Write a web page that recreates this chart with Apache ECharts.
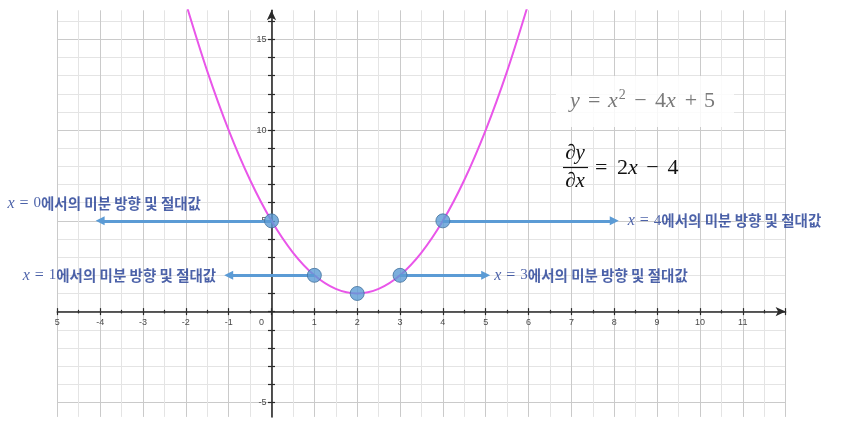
<!DOCTYPE html>
<html><head><meta charset="utf-8">
<script src="https://cdn.jsdelivr.net/npm/echarts@6/dist/echarts.min.js"></script>
<style>html,body{margin:0;padding:0;background:#fff}#c{width:841px;height:427px}</style>
</head><body><div id="c"></div>
<script>
// ---- data ----
const curveX = [-2, -1.5, -1, -0.5, 0, 0.5, 1, 1.5, 2, 2.5, 3, 3.5, 4, 4.5, 5, 5.5, 6];
const curveY = [17, 13.25, 10, 7.25, 5, 3.25, 2, 1.25, 1, 1.25, 2, 3.25, 5, 7.25, 10, 13.25, 17];
const pointX = [0, 1, 2, 3, 4];
const pointY = [5, 2, 1, 2, 5];
const arrowX = [0, 1, 3, 4];
const arrowY = [5, 2, 2, 5];
const arrowSlope = [-4, -2, 2, 4];
const arrowLabelPos = ['top', 'left', 'right', 'right'];
const arrowLabelDist = [9, 12, 8, 13];
const labelSuffix = '에서의 미분 방향 및 절대값';
const xTickLabels = [-5, -4, -3, -2, -1, 0, 1, 2, 3, 4, 5, 6, 7, 8, 9, 10, 11];
const yTickValues = [-5, -4, -3, -2, -1, 0, 1, 2, 3, 4, 5, 6, 7, 8, 9, 10, 11, 12, 13, 14, 15, 16];
const yTickLabels = [-5, 5, 10, 15];

const X_MIN = -5, X_MAX = 12, Y_MIN = -5.8, Y_MAX = 16.6;
const GRID = { left: 57.3, top: 10.3, width: 728.3, height: 406.6 };
const AXIS_C = '#2a2a2a', MAJ = '#cacaca', MIN = '#e4e4e4';
const LBL = { fontSize: 9, color: '#4a4a4a', fontFamily: 'Liberation Sans' };
const TXT_C = '#1f3b94';

// axis placement: put the axes through the origin (layout offsets only)
const zeroY = GRID.top + GRID.height * (Y_MAX / (Y_MAX - Y_MIN));
const zeroX = GRID.left + GRID.width * (-X_MIN / (X_MAX - X_MIN));
const offBottom = -(GRID.top + GRID.height - zeroY);
const offTop = -(zeroY - GRID.top);
const offLeft = -(zeroX - GRID.left);
const offRight = -(GRID.left + GRID.width - zeroX);

const chart = echarts.init(document.getElementById('c'), null, { renderer: 'canvas' });

const curveData = curveX.map((x, i) => [x, curveY[i]]);
const pointData = pointX.map((x, i) => [x, pointY[i]]);
const arrowData = arrowX.map((x, i) => ({ coords: [[x, arrowY[i]], [x + arrowSlope[i], arrowY[i]]] }));
const labelData = arrowX.map((x, i) => ({
  value: [x + arrowSlope[i], arrowY[i]],
  label: { position: arrowLabelPos[i], distance: arrowLabelDist[i], offset: i === 0 ? [4, 0] : [0, 0],
           formatter: '{v|x}{e|=}{d|' + x + '}{k|' + labelSuffix + '}' }
}));

const richLbl = {
  v: { fontFamily: 'Liberation Serif', fontStyle: 'italic', fontSize: 16, color: TXT_C },
  e: { fontFamily: 'Liberation Serif', fontSize: 16, color: TXT_C, padding: [0, 5, 0, 5] },
  d: { fontFamily: 'Liberation Serif', fontSize: 15, color: TXT_C },
  k: { fontFamily: 'Noto Sans CJK KR', fontWeight: 'bold', fontSize: 14.5, color: TXT_C }
};

const xBase = { type: 'value', min: X_MIN, max: X_MAX, interval: 1 };
const yBase = { type: 'value', min: Y_MIN, max: Y_MAX };

const F1 = '#7a7a7a';
const f1 = (extra) => Object.assign({ fontSize: 22, fontFamily: 'Liberation Serif', fill: F1, lineHeight: 26 }, extra);
const F2 = '#111';
const f2 = (extra) => Object.assign({ fontSize: 22, fontFamily: 'Liberation Serif', fill: F2, lineHeight: 26 }, extra);

chart.setOption({
  animation: false,
  grid: { left: GRID.left, top: GRID.top, width: GRID.width, height: GRID.height, containLabel: false },
  xAxis: [
    Object.assign({}, xBase, {
      position: 'bottom', offset: offBottom,
      axisLine: { onZero: false, symbol: ['none', 'arrow'], symbolSize: [7, 10],
                  lineStyle: { color: AXIS_C, width: 1.6 } },
      axisTick: { show: true, length: 3.5, lineStyle: { color: AXIS_C, width: 1.2 } },
      minorTick: { show: true, splitNumber: 2, length: 1.8, lineStyle: { color: AXIS_C, width: 1.2 } },
      axisLabel: Object.assign({}, LBL, {
        margin: 6, showMinLabel: true, showMaxLabel: true, hideOverlap: false,
        formatter: v => v === 12 ? '' : (v === -5 ? '5' : (v === 0 ? '{z|0}' : String(v))),
        rich: { z: Object.assign({}, LBL, { padding: [0, 20, 0, 0] }) }
      }),
      splitLine: { show: true, lineStyle: { color: MAJ, width: 1 } },
      minorSplitLine: { show: true, lineStyle: { color: MIN, width: 1 } }
    }),
    Object.assign({}, xBase, {
      position: 'top', offset: offTop,
      axisLine: { show: false, onZero: false },
      axisTick: { show: true, length: 3.5, lineStyle: { color: AXIS_C, width: 1.2 } },
      minorTick: { show: true, splitNumber: 2, length: 1.8, lineStyle: { color: AXIS_C, width: 1.2 } },
      axisLabel: { show: false },
      splitLine: { show: false }
    })
  ],
  yAxis: [
    Object.assign({}, yBase, {
      position: 'left', offset: offLeft,
      axisLine: { onZero: false, symbol: ['none', 'arrow'], symbolSize: [7, 10],
                  lineStyle: { color: AXIS_C, width: 1.6 } },
      axisTick: { show: true, length: 3.5, customValues: yTickValues, lineStyle: { color: AXIS_C, width: 1.2 } },
      axisLabel: Object.assign({}, LBL, { margin: 5, customValues: yTickLabels }),
      splitLine: { show: true, lineStyle: { color: [MAJ, MIN, MIN, MIN, MIN], width: 1 } }
    }),
    Object.assign({}, yBase, {
      position: 'right', offset: offRight,
      axisLine: { show: false, onZero: false },
      axisTick: { show: true, length: 3.5, customValues: yTickValues, lineStyle: { color: AXIS_C, width: 1.2 } },
      axisLabel: { show: false },
      splitLine: { show: false }
    })
  ],
  series: [
    {
      type: 'line', name: 'curve', data: curveData, smooth: 0.35, showSymbol: false, clip: true,
      lineStyle: { color: '#e956e9', width: 2 }, z: 3
    },
    {
      type: 'lines', coordinateSystem: 'cartesian2d', data: arrowData,
      symbol: ['none', 'triangle'], symbolSize: [10, 9],
      lineStyle: { color: '#5b9bd5', width: 3, opacity: 1 }, z: 4
    },
    {
      type: 'scatter', data: pointData, symbolSize: 14,
      itemStyle: { color: '#5b9bd5', borderColor: '#41719c', borderWidth: 1 }, z: 5
    },
    {
      type: 'scatter', data: labelData, symbolSize: 1, silent: true,
      itemStyle: { color: 'rgba(0,0,0,0)' },
      label: { show: true, rich: richLbl }, z: 6
    }
  ],
  graphic: [
    { type: 'rect', shape: { x: 556, y: 76, width: 178, height: 51 },
      style: { fill: 'rgba(255,255,255,0.85)' }, z: 10 },
    { type: 'text', x: 570, y: 101, z: 11,
      style: { text: '{i|y}{o|=}{i|x}{s|2}{m|−}{n|4}{i|x}{p|+}{n|5}', align: 'left', verticalAlign: 'middle',
        fill: F1, fontSize: 22, fontFamily: 'Liberation Serif',
        rich: { i: f1({ fontStyle: 'italic' }),
                n: f1({}),
                o: f1({ padding: [0, 7.6, 0, 8.2] }),
                m: f1({ padding: [0, 8.4, 0, 8.4] }),
                p: f1({ padding: [0, 7, 0, 9] }),
                s: { fontSize: 14, fontFamily: 'Liberation Serif', fill: F1, verticalAlign: 'top', lineHeight: 14, padding: [0, 0, 0, 1] } } } },
    { type: 'text', x: 575, y: 153, z: 11,
      style: { text: '∂{i|y}', align: 'center', verticalAlign: 'middle', fill: F2, fontSize: 21, fontFamily: 'Liberation Serif',
        rich: { i: f2({ fontSize: 21, fontStyle: 'italic' }) } } },
    { type: 'line', z: 11, shape: { x1: 563, y1: 167.5, x2: 588, y2: 167.5 }, style: { stroke: F2, lineWidth: 1.2 } },
    { type: 'text', x: 575, y: 181, z: 11,
      style: { text: '∂{i|x}', align: 'center', verticalAlign: 'middle', fill: F2, fontSize: 21, fontFamily: 'Liberation Serif',
        rich: { i: f2({ fontSize: 21, fontStyle: 'italic' }) } } },
    { type: 'text', x: 595, y: 168, z: 11,
      style: { text: '{q|=}{n|2}{i|x}{m|−}{n|4}', align: 'left', verticalAlign: 'middle', fill: F2, fontSize: 22, fontFamily: 'Liberation Serif',
        rich: { i: f2({ fontStyle: 'italic' }),
                q: f2({ padding: [0, 9.6, 0, 0] }),
                n: f2({}),
                m: f2({ padding: [0, 8.6, 0, 8.6] }) } } }
  ]
});
</script>
</body></html>
